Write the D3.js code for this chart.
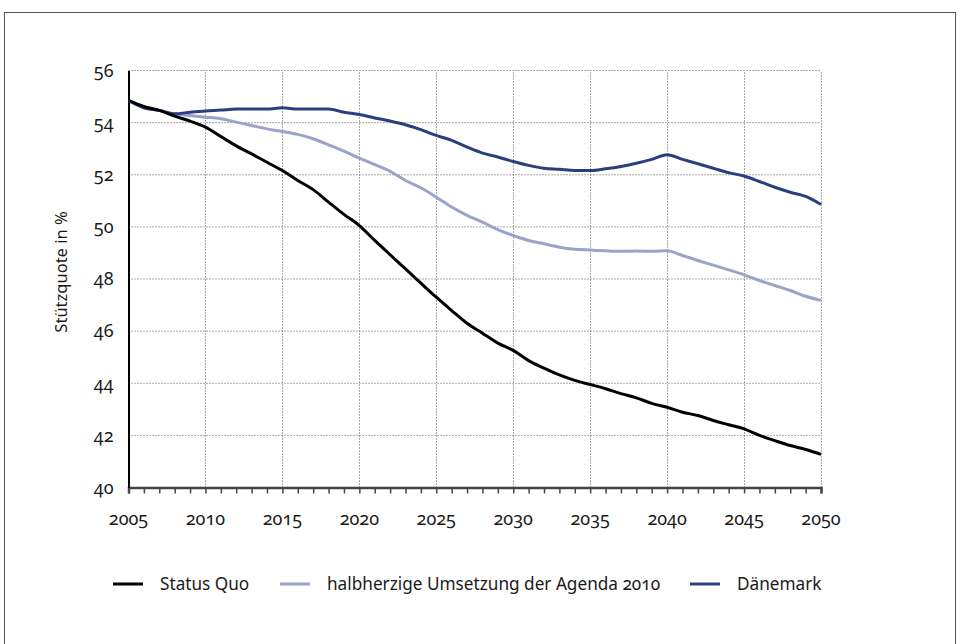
<!DOCTYPE html>
<html><head><meta charset="utf-8">
<script src="https://cdn.jsdelivr.net/npm/d3@7"></script>
<style>
body{margin:0;background:#fff;}
svg text{font-family:"Noto Sans","Open Sans",sans-serif;font-feature-settings:"onum" 1;font-variant-numeric:oldstyle-nums;fill:#1a1a1a;}
</style></head><body>
<svg id="c" width="961" height="644"></svg>
<script>
const years = d3.range(2005, 2051);
const statusQuo = [54.85,54.62,54.47,54.25,54.06,53.83,53.47,53.11,52.80,52.48,52.16,51.78,51.43,50.95,50.48,50.05,49.48,48.93,48.39,47.84,47.30,46.79,46.30,45.92,45.54,45.26,44.87,44.58,44.32,44.11,43.95,43.79,43.60,43.44,43.23,43.08,42.89,42.76,42.57,42.41,42.25,42.00,41.80,41.61,41.46,41.27];
const agenda = [54.85,54.57,54.47,54.34,54.27,54.21,54.15,54.02,53.89,53.76,53.66,53.55,53.38,53.15,52.91,52.64,52.39,52.13,51.78,51.50,51.14,50.76,50.44,50.18,49.89,49.67,49.48,49.35,49.22,49.14,49.11,49.08,49.06,49.07,49.06,49.08,48.90,48.71,48.53,48.35,48.16,47.94,47.75,47.56,47.34,47.18];
const daenemark = [54.85,54.57,54.47,54.34,54.40,54.45,54.48,54.52,54.52,54.52,54.57,54.52,54.52,54.52,54.40,54.31,54.18,54.06,53.92,53.73,53.51,53.32,53.06,52.83,52.68,52.51,52.36,52.25,52.21,52.16,52.16,52.23,52.32,52.44,52.59,52.77,52.59,52.42,52.25,52.08,51.95,51.74,51.52,51.33,51.17,50.86];
const seriesNames = ["Status Quo","halbherzige Umsetzung der Agenda 2010","Dänemark"];
const seriesColors = ["#000000","#9aa3c9","#2b3f7e"];
const yTicks = [40,42,44,46,48,50,52,54,56];
const xTicks = [2005,2010,2015,2020,2025,2030,2035,2040,2045,2050];
const yTitle = "Stützquote in %";

const svg = d3.select("#c");
// outer frame
svg.append("rect").attr("x",4.5).attr("y",12.5).attr("width",951).attr("height",700)
  .attr("fill","none").attr("stroke","#555").attr("stroke-width",1);

const x = d3.scaleLinear().domain([2005,2050]).range([128.5,821]);
const y = d3.scaleLinear().domain([40,56]).range([487.5,70.5]);

// gridlines
const g = svg.append("g");
g.selectAll("line.h").data(yTicks.filter(d=>d>40)).join("line")
  .attr("x1",x(2005)).attr("x2",x(2050)).attr("y1",d=>y(d)).attr("y2",d=>y(d))
  .attr("stroke","#555").attr("stroke-width",1).attr("stroke-dasharray","1,2");
g.selectAll("line.v").data(xTicks.filter(d=>d>2005)).join("line")
  .attr("y1",y(40)).attr("y2",y(56)).attr("x1",d=>Math.round(x(d))+0.5).attr("x2",d=>Math.round(x(d))+0.5)
  .attr("stroke","#555").attr("stroke-width",1).attr("stroke-dasharray","1,2");

// x axis with yearly ticks
const xAxis = d3.axisBottom(x).tickValues(years).tickSize(6).tickFormat("");
const xa = svg.append("g").attr("transform",`translate(0,${y(40)})`).call(xAxis);
xa.select(".domain").attr("stroke","#444").attr("stroke-width",2.5);
xa.selectAll(".tick line").attr("stroke","#444").attr("stroke-width",1.5);
svg.append("g").selectAll("text").data(xTicks).join("text")
  .attr("x",d=>x(d)).attr("y",525).attr("text-anchor","middle").attr("font-size",18).text(d=>d);

// y axis
const yAxis = d3.axisLeft(y).tickValues(yTicks).tickSize(0).tickPadding(15);
const ya = svg.append("g").attr("transform",`translate(${x(2005)},0)`).call(yAxis);
ya.select(".domain").attr("stroke","#000").attr("stroke-width",2);
ya.selectAll(".tick text").attr("font-size",18).attr("font-family","'Noto Sans',sans-serif").attr("fill","#1a1a1a");

svg.append("text").attr("transform","translate(67,272) rotate(-90)").attr("text-anchor","middle")
  .attr("font-size",16.5).text(yTitle);

// lines
const line = d3.line().x((d,i)=>x(years[i])).y(d=>y(d)).curve(d3.curveMonotoneX);
const data = [agenda, daenemark, statusQuo];
const cols = [seriesColors[1], seriesColors[2], seriesColors[0]];
svg.append("g").selectAll("path").data(data).join("path")
  .attr("d",line).attr("fill","none").attr("stroke",(d,i)=>cols[i]).attr("stroke-width",3)
  .attr("stroke-linejoin","round");

// legend
const legendX = [113, 280, 690];
const lg = svg.append("g").selectAll("g").data(seriesNames).join("g")
  .attr("transform",(d,i)=>`translate(${legendX[i]},584)`);
lg.append("line").attr("x1",0).attr("x2",30).attr("stroke",(d,i)=>seriesColors[i]).attr("stroke-width",3);
lg.append("text").attr("x",47).attr("y",6).attr("font-size",17.2).text(d=>d);
</script></body></html>
